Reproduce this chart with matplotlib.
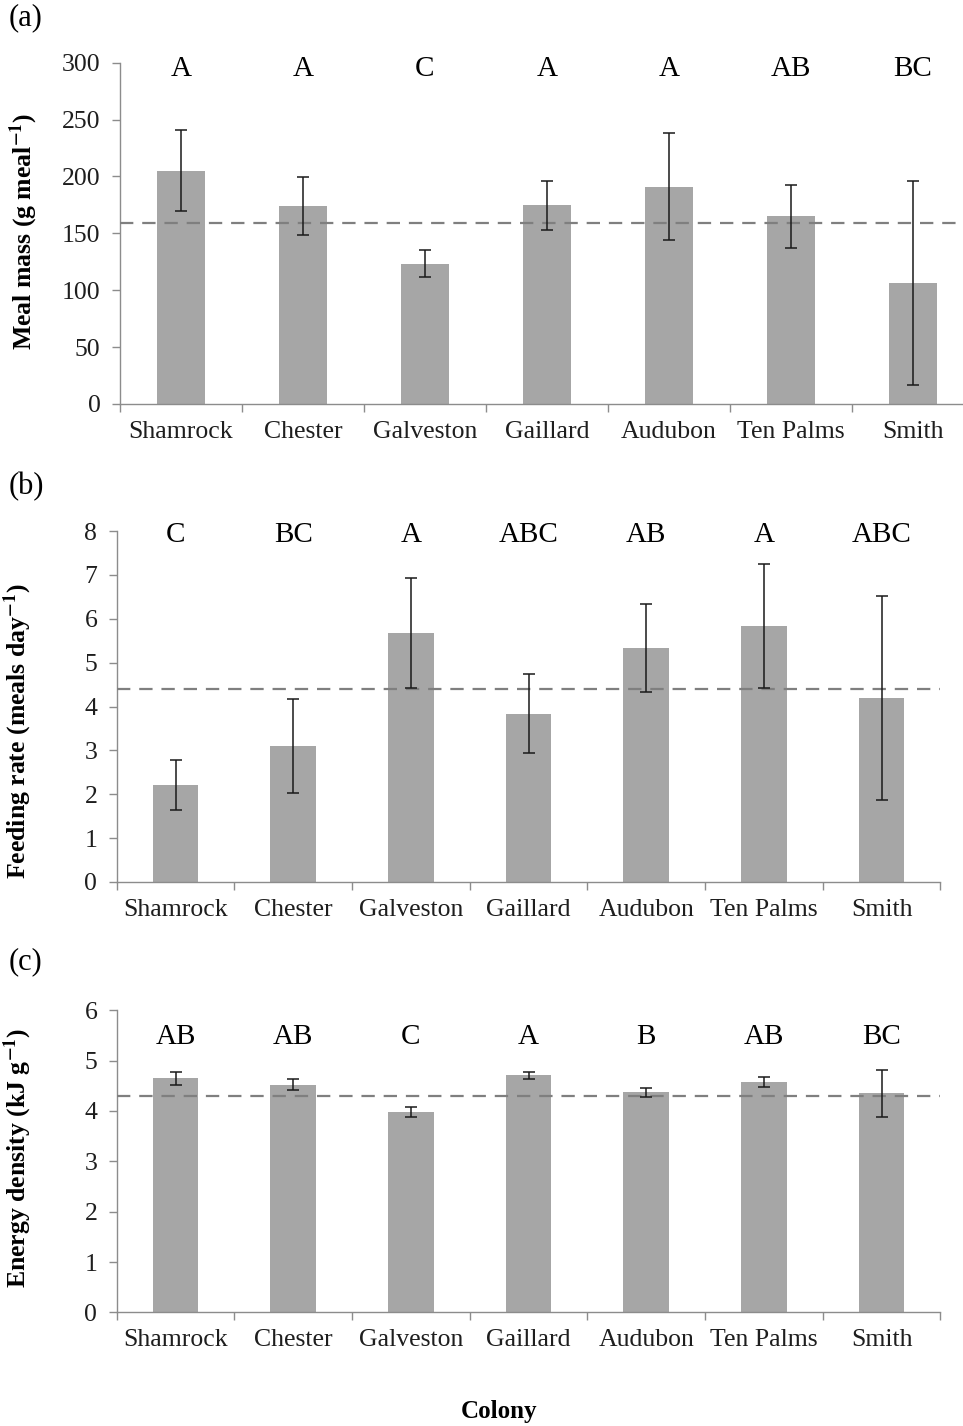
import matplotlib.pyplot as plt
import numpy as np

plt.rcParams['font.family'] = 'Liberation Serif'
plt.rcParams['mathtext.fontset'] = 'stix'

colonies = ['Shamrock', 'Chester', 'Galveston', 'Gaillard', 'Audubon', 'Ten Palms', 'Smith']

# (a) meal mass, g per meal
meal_mass = [205, 174, 123.5, 174.5, 191, 165, 106.5]
meal_mass_err = [35.5, 25.5, 12, 21.5, 47, 27.5, 89.5]
meal_mass_mean = 158.8
meal_mass_groups = ['A', 'A', 'C', 'A', 'A', 'AB', 'BC']

# (b) feeding rate, meals per day
feed_rate = [2.22, 3.1, 5.68, 3.83, 5.33, 5.83, 4.2]
feed_rate_err = [0.57, 1.07, 1.25, 0.9, 1.01, 1.41, 2.33]
feed_rate_mean = 4.41
feed_rate_groups = ['C', 'BC', 'A', 'ABC', 'AB', 'A', 'ABC']

# (c) energy density, kJ per g
energy = [4.65, 4.52, 3.98, 4.71, 4.37, 4.58, 4.35]
energy_err = [0.13, 0.11, 0.09, 0.07, 0.09, 0.1, 0.46]
energy_mean = 4.30
energy_groups = ['AB', 'AB', 'C', 'A', 'B', 'AB', 'BC']

bar_col = '#a6a6a6'
axis_col = '#8c8c8c'
text_col = '#1e1e1e'


def panel(ax, vals, errs, mean, groups, top, step, ylabel, letter_y, label_xy):
    x = np.arange(len(colonies))
    ax.bar(x, vals, width=0.39, color=bar_col, zorder=2)
    ax.axhline(mean, color='#7f7f7f', lw=1.6, ls=(0, (6, 4)), zorder=3)
    ax.errorbar(x, vals, yerr=errs, fmt='none', ecolor='#1a1a1a',
                elinewidth=1.1, capsize=4.5, capthick=1.1, zorder=4)
    for i, g in enumerate(groups):
        ax.text(i, letter_y, g, ha='center', va='baseline', fontsize=21, color='black')

    ax.set_xlim(-0.5, len(colonies) - 0.5)
    ax.set_ylim(0, top)
    ax.set_yticks(np.arange(0, top + step / 2, step))
    ax.set_xticks(x)
    ax.set_xticklabels(colonies)
    ax.set_xticks(np.arange(-0.5, len(colonies), 1), minor=True)
    ax.tick_params(axis='x', which='major', length=0, pad=12, labelsize=18.5, labelcolor=text_col)
    ax.tick_params(axis='x', which='minor', length=6, width=1, color=axis_col)
    ax.tick_params(axis='y', length=6, width=1, color=axis_col, pad=8, labelsize=18.5, labelcolor=text_col)
    for s in ['top', 'right']:
        ax.spines[s].set_visible(False)
    for s in ['left', 'bottom']:
        ax.spines[s].set_color(axis_col)
        ax.spines[s].set_linewidth(1)
    ax.set_ylabel(ylabel, fontsize=18.5, fontweight='bold')
    ax.yaxis.set_label_coords(*label_xy)


fig = plt.figure(figsize=(9.63, 14.26), dpi=100)
ax_a = fig.add_axes([0.1246, 0.7167, 0.8868, 0.2393])
ax_b = fig.add_axes([0.1212, 0.3815, 0.8553, 0.2461])
ax_c = fig.add_axes([0.1212, 0.0797, 0.8553, 0.2118])

panel(ax_a, meal_mass, meal_mass_err, meal_mass_mean, meal_mass_groups, 300, 50,
      r'Meal mass (g meal$^{\mathbf{-1}}$)', 288, (-0.094, 0.505))
panel(ax_b, feed_rate, feed_rate_err, feed_rate_mean, feed_rate_groups, 8, 1,
      r'Feeding rate (meals day$^{\mathbf{-1}}$)', 7.74, (-0.1, 0.43))
panel(ax_c, energy, energy_err, energy_mean, energy_groups, 6, 1,
      r'Energy density (kJ g$^{\mathbf{-1}}$)', 5.33, (-0.1, 0.511))

fig.text(9 / 963, 1 - 3 / 1426, '(a)', fontsize=22, ha='left', va='top')
fig.text(9 / 963, 1 - 472 / 1426, '(b)', fontsize=22, ha='left', va='top')
fig.text(9 / 963, 1 - 947 / 1426, '(c)', fontsize=22, ha='left', va='top')
fig.text(499 / 963, 1 - 1418 / 1426, 'Colony', fontsize=18, fontweight='bold',
         ha='center', va='baseline')

fig.savefig('out.png', dpi=100, facecolor='white')
